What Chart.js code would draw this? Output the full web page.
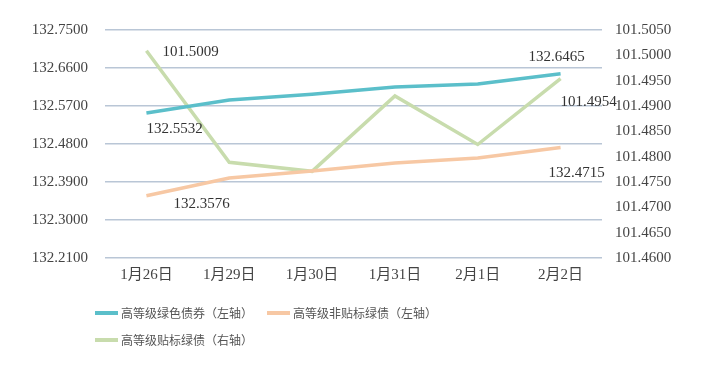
<!DOCTYPE html>
<html>
<head>
<meta charset="utf-8">
<script src="https://cdn.jsdelivr.net/npm/chart.js@4.4.0/dist/chart.umd.min.js"></script>
<style>
  html, body { margin: 0; padding: 0; background: #fff; }
  #wrap { width: 703px; height: 369px; position: relative; }
</style>
</head>
<body>
<div id="wrap"><canvas id="canvas"></canvas></div>
<script>
// données
const labels = ['1月26日', '1月29日', '1月30日', '1月31日', '2月1日', '2月2日'];
const greenBond = [132.5532, 132.584, 132.598, 132.615, 132.622, 132.6465];     // gauche
const nonLabelBond = [132.3576, 132.3995, 132.416, 132.435, 132.447, 132.4715]; // gauche
const labelBond = [101.5009, 101.4789, 101.4771, 101.4920, 101.4824, 101.4954]; // droite
const leftTicks = [132.21, 132.30, 132.39, 132.48, 132.57, 132.66, 132.75];
const rightTicks = [101.460, 101.465, 101.470, 101.475, 101.480, 101.485, 101.490, 101.495, 101.500, 101.505];
const seriesNames = ['高等级绿色债券（左轴）', '高等级非贴标绿债（左轴）', '高等级贴标绿债（右轴）'];

const serif = "'Liberation Serif', 'Noto Sans CJK SC', serif";

// étiquettes de valeurs (premier et dernier point)
const valueLabels = {
  id: 'valueLabels',
  afterDatasetsDraw(chart, args, opts) {
    const ctx = chart.ctx;
    ctx.save();
    ctx.font = '15px ' + serif;
    ctx.fillStyle = '#333';
    ctx.textBaseline = 'middle';
    opts.items.forEach(it => {
      const pt = chart.getDatasetMeta(it.ds).data[it.idx];
      const v = chart.data.datasets[it.ds].data[it.idx];
      ctx.textAlign = it.align;
      ctx.fillText(v.toFixed(4), pt.x + it.dx, pt.y + it.dy);
    });
    ctx.restore();
  }
};

// légende sur deux lignes, alignée à gauche
const bottomLegend = {
  id: 'bottomLegend',
  afterDraw(chart, args, opts) {
    const ctx = chart.ctx;
    ctx.save();
    ctx.font = "12px 'Noto Sans CJK SC', sans-serif";
    ctx.textBaseline = 'middle';
    ctx.textAlign = 'left';
    chart.data.datasets.forEach((ds, i) => {
      const p = opts.pos[i];
      ctx.strokeStyle = ds.borderColor;
      ctx.lineWidth = 4;
      ctx.beginPath();
      ctx.moveTo(p.x, p.y);
      ctx.lineTo(p.x + 23, p.y);
      ctx.stroke();
      ctx.fillStyle = '#555';
      ctx.fillText(ds.label, p.x + 26, p.y);
    });
    ctx.restore();
  }
};

new Chart(document.querySelector('#canvas'), {
  type: 'line',
  data: {
    labels: labels,
    datasets: [
      { label: seriesNames[0], data: greenBond, borderColor: '#5bbfca', yAxisID: 'y' },
      { label: seriesNames[1], data: nonLabelBond, borderColor: '#f7c8a4', yAxisID: 'y' },
      { label: seriesNames[2], data: labelBond, borderColor: '#c8dcad', yAxisID: 'y1' }
    ]
  },
  options: {
    responsive: true,
    maintainAspectRatio: false,
    animation: false,
    elements: {
      line: { borderWidth: 3.5, tension: 0 },
      point: { radius: 0 }
    },
    layout: { padding: { top: 30, bottom: 85 } },
    plugins: {
      legend: { display: false },
      tooltip: { enabled: false },
      valueLabels: {
        items: [
          { ds: 2, idx: 0, dx: 16, dy: 1, align: 'left' },
          { ds: 0, idx: 0, dx: 0, dy: 16, align: 'left' },
          { ds: 1, idx: 0, dx: 27, dy: 8, align: 'left' },
          { ds: 0, idx: 5, dx: -4, dy: -17, align: 'center' },
          { ds: 2, idx: 5, dx: 0, dy: 23, align: 'left' },
          { ds: 1, idx: 5, dx: 16, dy: 25, align: 'center' }
        ]
      },
      bottomLegend: {
        pos: [ { x: 95, y: 313 }, { x: 267, y: 313 }, { x: 95, y: 340 } ]
      }
    },
    scales: {
      x: {
        offset: true,
        grid: { display: false },
        border: { display: false },
        ticks: { color: '#444', font: { size: 15, family: serif }, padding: 0, maxRotation: 0 }
      },
      y: {
        position: 'left',
        min: leftTicks[0],
        max: leftTicks[leftTicks.length - 1],
        afterBuildTicks: s => { s.ticks = leftTicks.map(v => ({ value: v })); },
        afterFit: s => { s.width = 105; },
        grid: { color: '#b9c6d6', lineWidth: 1.5, drawTicks: false },
        border: { display: false },
        ticks: {
          color: '#444', padding: 17,
          font: { size: 15, family: serif },
          callback: v => Number(v).toFixed(4)
        }
      },
      y1: {
        position: 'right',
        min: rightTicks[0],
        max: rightTicks[rightTicks.length - 1],
        afterBuildTicks: s => { s.ticks = rightTicks.map(v => ({ value: v })); },
        afterFit: s => { s.width = 101; },
        grid: { display: false, drawTicks: false },
        border: { display: false },
        ticks: {
          color: '#444', padding: 13,
          font: { size: 15, family: serif },
          callback: v => Number(v).toFixed(4)
        }
      }
    }
  },
  plugins: [valueLabels, bottomLegend]
});
</script>
</body>
</html>
